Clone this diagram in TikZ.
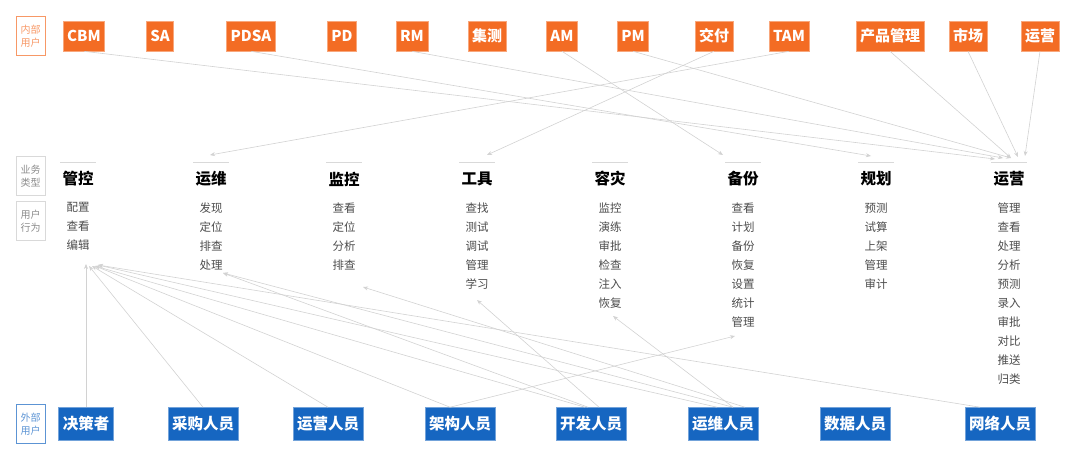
\documentclass[tikz,border=0pt]{standalone}
\usepackage{fontspec}
\setmainfont{Noto Sans CJK SC}
\usetikzlibrary{arrows.meta}
\definecolor{org}{HTML}{F36C24}
\definecolor{blu}{HTML}{1666C1}
\definecolor{ln}{HTML}{D2D2D2}
\begin{document}
\begin{tikzpicture}[x=1pt,y=-1pt,
 top/.style={fill=org,draw=org!60,line width=0.6pt,text=white,font=\bfseries\fontsize{15}{15}\selectfont,minimum height=30pt,inner xsep=4pt},
 bot/.style={fill=blu,draw=blu!60,line width=0.6pt,text=white,font=\bfseries\fontsize{15.5}{15.5}\selectfont,minimum height=33pt,inner xsep=4pt},
 side/.style={draw=#1,line width=0.6pt,text=#1,font=\fontsize{10}{13}\selectfont,align=center,minimum width=29pt,minimum height=39pt,inner sep=1pt},
 head/.style={font=\bfseries\fontsize{15.5}{15.5}\selectfont},
 items/.style={font=\fontsize{11.5}{19}\selectfont,text=black!70,align=center,anchor=north},
 ar/.style={draw=ln,line width=0.6pt,-{Stealth[length=5pt,width=4pt]}}]
\useasboundingbox (0,0) rectangle (1080,463);
\node[side=org!70] (l1) at (30.5,36) {内部\\用户};
\node[side=black!15,text=black!45] (l2) at (30.5,176) {业务\\类型};
\node[side=black!15,text=black!45] (l3) at (30.5,221) {用户\\行为};
\node[side=blu!70] (l4) at (30.5,424) {外部\\用户};
% top
\foreach \n/\x/\t in {cbm/84/CBM,sa/160/SA,pdsa/251/PDSA,pd/342/PD,rm/412/RM,jc/487/集测,am/562/AM,pm/633/PM,jf/714/交付,tam/789/TAM,cp/890/产品管理,sc/968/市场,yy/1040/运营}
  \node[top] (\n) at (\x,36) {\t};
% bottom
\foreach \n/\x/\t in {jcz/86/决策者,cg/203/采购人员,yyry/328/运营人员,jg/460/架构人员,kf/591/开发人员,yw/723/运维人员,sj/855/数据人员,wl/1000/网络人员}
  \node[bot] (\n) at (\x,424) {\t};
% categories
\foreach \n/\x/\t/\its in {
 gk/78/管控/{配置\\查看\\编辑},
 ywc/211/运维/{发现\\定位\\排查\\处理},
 jk/344/监控/{查看\\定位\\分析\\排查},
 gj/477/工具/{查找\\测试\\调试\\管理\\学习},
 rz/610/容灾/{监控\\演练\\审批\\检查\\注入\\恢复},
 bf/743/备份/{查看\\计划\\备份\\恢复\\设置\\统计\\管理},
 gh/876/规划/{预测\\试算\\上架\\管理\\审计},
 yyc/1009/运营/{管理\\查看\\处理\\分析\\预测\\录入\\审批\\对比\\推送\\归类}}{
  \draw[black!15,line width=0.8pt] (\x-18,162) -- (\x+18,162);
  \node[head] (\n) at (\x,179) {\t};
  \node[items] (\n i) at (\x,199) {\its};
}
% target coordinates
\coordinate (tYY1) at (995,159);
\coordinate (tYY2) at (1003,158);
\coordinate (tYY3) at (1011,158);
\coordinate (tYY4) at (1018,157);
\coordinate (tYY5) at (1025,156);
\coordinate (tGH) at (871,156);
\coordinate (tBF) at (723,155);
\coordinate (tGJ) at (487,155);
\coordinate (tYW) at (210,155);
\coordinate (bGK1) at (86,264);
\coordinate (bGK2) at (89,266);
\coordinate (bGK3) at (92,266);
\coordinate (bGK4) at (95,266);
\coordinate (bGK5) at (98,265);
\coordinate (bYW) at (223,273);
\coordinate (bJK) at (363,287);
\coordinate (bGJ) at (477,300);
\coordinate (bRZ) at (613,316);
\coordinate (bBF) at (735,336);
% top arrows
\draw[ar] (cbm.south) -- (tYY1);
\draw[ar] (rm.south) -- (tYY2);
\draw[ar] (pm.south) -- (tYY3);
\draw[ar] (cp.south) -- (tYY3);
\draw[ar] (sc.south) -- (tYY4);
\draw[ar] (yy.south) -- (tYY5);
\draw[ar] (pdsa.south) -- (tGH);
\draw[ar] (am.south) -- (tBF);
\draw[ar] (jf.south) -- (tGJ);
\draw[ar] (tam.south) -- (tYW);
% bottom arrows
\draw[ar] (jcz.north) -- (bGK1);
\draw[ar] (cg.north) -- (bGK2);
\draw[ar] (yyry.north) -- (bGK3);
\draw[ar] ([xshift=-10pt]jg.north) -- (bGK4);
\draw[ar] ([xshift=-10pt]jg.north) -- (bBF);
\draw[ar] ([xshift=-6pt]kf.north) -- (bGK4);
\draw[ar] ([xshift=-3pt]kf.north) -- (bYW);
\draw[ar] ([xshift=8pt]kf.north) -- (bGJ);
\draw[ar] ([xshift=-6pt]yw.north) -- (bGK5);
\draw[ar] ([xshift=10pt]yw.north) -- (bYW);
\draw[ar] ([xshift=22pt]yw.north) -- (bJK);
\draw[ar] ([xshift=10pt]yw.north) -- (bRZ);
\draw[ar] ([xshift=-20pt]wl.north) -- (bGK5);
\end{tikzpicture}
\end{document}
